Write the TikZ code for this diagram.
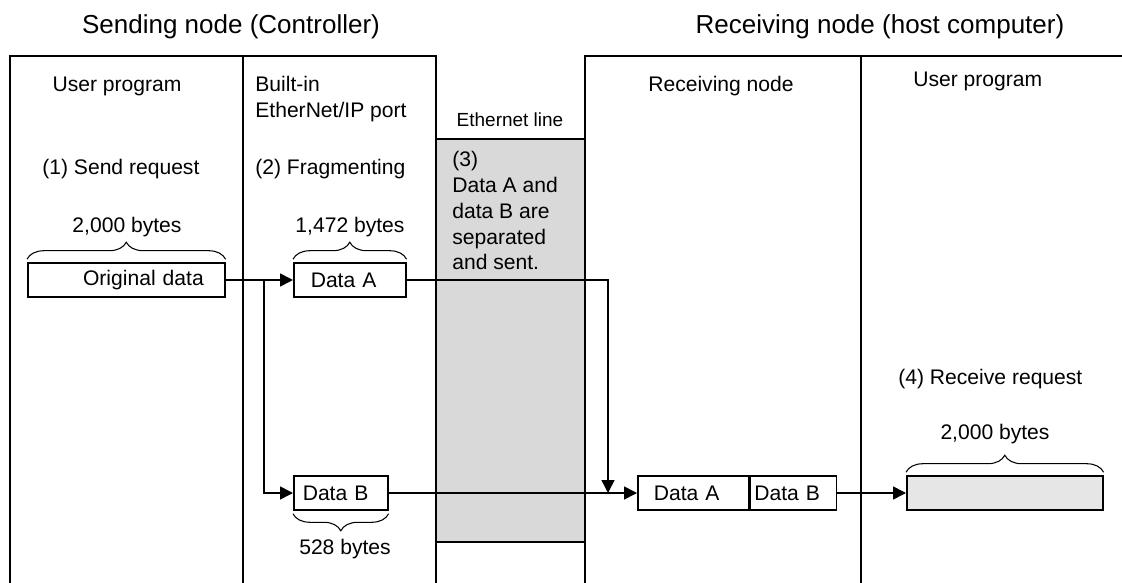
\documentclass[tikz,border=0pt]{standalone}
\usepackage{fontspec}
\setmainfont{Liberation Sans}
\usetikzlibrary{arrows.meta, decorations.pathreplacing, positioning}
\definecolor{lineGray}{HTML}{D9D9D9}
\definecolor{bufGray}{HTML}{E6E6E6}

\begin{document}
\begin{tikzpicture}[x=0.2mm, y=-0.2mm,
  frame/.style={line width=1.5pt},
  pkt/.style={draw, line width=0.9pt, minimum height=0.68cm, anchor=west,
              align=left, font=\fontsize{12}{15}\selectfont},
  conn/.style={line width=0.9pt, -{Triangle[length=2.6mm, width=2.6mm]}},
  brc/.style={decorate, decoration={brace, amplitude=3.4mm, raise=0.6mm},
              line width=0.6pt},
  txt/.style={font=\fontsize{12}{15}\selectfont, inner sep=0pt},
  ttl/.style={font=\fontsize{14.8}{18}\selectfont, inner sep=0pt}]
  \useasboundingbox (0,0) rectangle (1122,583);
  % columns
  \draw[frame, fill=lineGray] (436,139) rectangle (585,542);
  \draw[frame] (10,583) -- (10,56) -- (436,56) -- (436,583);
  \draw[frame] (243,56) -- (243,583);
  \draw[frame] (585,583) -- (585,56) -- (1122,56);
  \draw[frame] (861,56) -- (861,583);
  % titles and headings
  \node[ttl, anchor=base] (sendT) at (231,34) {Sending node (Controller)};
  \node[ttl, anchor=base] (recvT) at (880,34) {Receiving node (host computer)};
  \node[txt, anchor=base] (progL) at (117,92) {User program};
  \node[txt, anchor=base west, align=left] (port) at (255,118)
    {Built-in\\EtherNet/IP port};
  \node[txt, anchor=base, font=\fontsize{10.8}{13}\selectfont] (ethT) at (510,127)
    {Ethernet line};
  \node[txt, anchor=base] (rnode) at (721,92) {Receiving node};
  \node[txt, anchor=base west] (progR) at (913,87) {User program};
  % steps
  \node[txt, anchor=base west] (step1) at (42,175) {(1) Send request};
  \node[txt, anchor=base west] (step2) at (255,175) {(2) Fragmenting};
  \node[txt, anchor=base west, align=left, font=\fontsize{12}{14.7}\selectfont]
    (step3) at (452,270) {(3)\\Data A and\\data B are\\separated\\and sent.};
  \node[txt, anchor=base west] (step4) at (898,384) {(4) Receive request};
  % data blocks
  \node[pkt, text width=3.10cm, inner xsep=0.42cm, align=right] (orig) at (27,280)
    {Original data};
  \node[pkt, text width=1.56cm, inner xsep=0.34cm] (dataA) at (293,280) {Data A};
  \node[pkt, text width=1.52cm, inner xsep=0.18cm] (dataB) at (293,493) {Data B};
  \node[pkt, text width=1.58cm, inner xsep=0.32cm] (recvA) at (637,493) {Data A};
  \node[pkt, text width=1.56cm, inner xsep=0.08cm] (recvB) at (recvA.east) {Data B};
  \node[pkt, minimum width=3.92cm, fill=bufGray] (buf) at (906,493) {};
  % sizes
  \draw[brc] (orig.north west) -- (orig.north east);
  \draw[brc] (dataA.north west) -- (dataA.north east);
  \draw[brc] (dataB.south east) -- (dataB.south west);
  \draw[brc] (buf.north west) -- (buf.north east);
  \node[txt, anchor=base] (size1) at (127,233) {2,000 bytes};
  \node[txt, anchor=base] (size2) at (350,233) {1,472 bytes};
  \node[txt, anchor=base] (size3) at (345,554) {528 bytes};
  \node[txt, anchor=base] (size4) at (995,439) {2,000 bytes};
  % flow
  \coordinate (split) at (264,280);
  \coordinate (join) at (608,493);
  \draw[conn] (orig.east) -- (dataA.west);
  \draw[conn] (split) |- (dataB.west);
  \draw[conn] (dataA.east) -| (join);
  \draw[conn] (dataB.east) -- (recvA.west);
  \draw[conn] (recvB.east) -- (buf.west);
\end{tikzpicture}
\end{document}
